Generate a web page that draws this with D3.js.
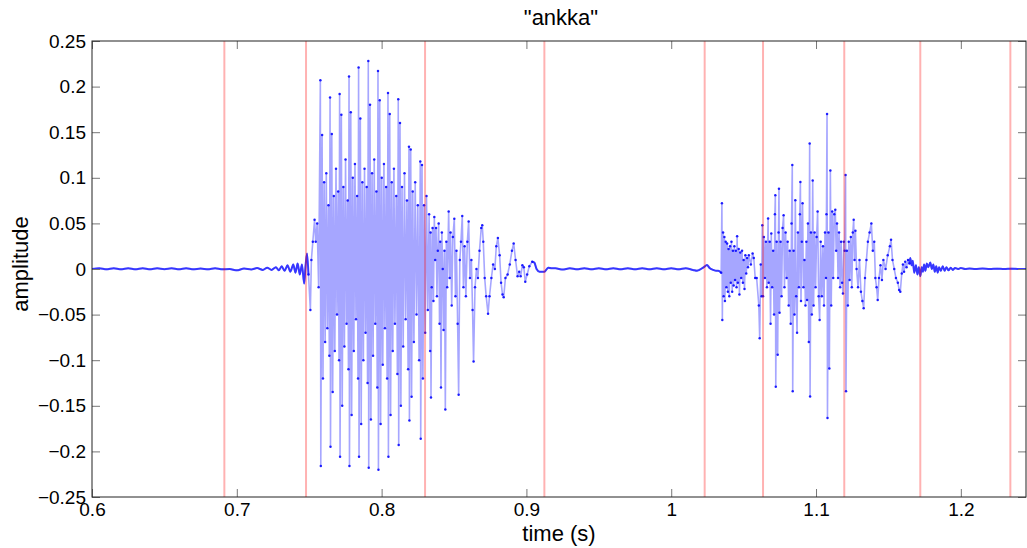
<!DOCTYPE html>
<html>
<head>
<meta charset="utf-8">
<script src="https://cdn.jsdelivr.net/npm/d3@7"></script>
<style>
  body { margin: 0; background: #fff; }
  text { font-family: "Liberation Sans", Arial, Helvetica, sans-serif; }
</style>
</head>
<body>
<svg id="chart" width="1027" height="548"></svg>
<script>
// tick values and labels
var xTicks = [0.6, 0.7, 0.8, 0.9, 1.0, 1.1, 1.2];
var xTickLabels = ["0.6", "0.7", "0.8", "0.9", "1", "1.1", "1.2"];
var yTicks = [0.25, 0.2, 0.15, 0.1, 0.05, 0, -0.05, -0.1, -0.15, -0.2, -0.25];
var yTickLabels = ["0.25", "0.2", "0.15", "0.1", "0.05", "0", "\u22120.05", "\u22120.1", "\u22120.15", "\u22120.2", "\u22120.25"];

// segment boundaries (s)
var boundaries = [0.6914, 0.7478, 0.8300, 0.9124, 1.0231, 1.0634, 1.1195, 1.1720, 1.2342];

// waveform, [time (s), amplitude]
var lead = [
  [0.600, 0.000], [0.605, 0.0008], [0.610, -0.0004], [0.615, 0.0008], [0.620, -0.0004], [0.625, 0.0008],
  [0.630, -0.0004], [0.635, 0.0008], [0.640, -0.0004], [0.645, 0.0008], [0.650, -0.0002], [0.655, 0.0008],
  [0.660, -0.0004], [0.665, 0.0008], [0.670, -0.0004], [0.675, 0.0006], [0.680, -0.0004], [0.685, 0.0008],
  [0.690, -0.0004], [0.695, 0.000], [0.700, -0.0015], [0.705, 0.0005], [0.710, -0.0005], [0.714, 0.001],
  [0.718, -0.001], [0.721, 0.0015], [0.724, -0.001], [0.727, 0.002], [0.729, -0.0015], [0.731, 0.003],
  [0.733, -0.002], [0.735, 0.004], [0.737, -0.003], [0.739, 0.005], [0.7405, -0.004], [0.742, 0.006],
  [0.7435, -0.006], [0.745, 0.005], [0.7465, -0.016], [0.7475, 0.004], [0.7485, 0.017]
];

var vowel1 = [
  [0.7495, -0.006], [0.7508, -0.045], [0.7515, 0.010], [0.7525, 0.030], [0.7537, 0.054], [0.7545, 0.030],
  [0.7555, 0.050], [0.7565, -0.020],
  [0.7577, 0.207], [0.7580, -0.216], [0.7589, 0.147], [0.7595, -0.120], [0.7603, 0.095], [0.7610, -0.080],
  [0.7618, 0.105], [0.7625, -0.065], [0.7633, 0.070], [0.7639, -0.095],
  [0.7644, 0.188], [0.7647, -0.195], [0.7656, 0.148], [0.7662, -0.135], [0.7670, 0.080], [0.7677, -0.090],
  [0.7685, 0.110], [0.7692, -0.050], [0.7700, 0.085], [0.7706, -0.100],
  [0.7710, 0.192], [0.7713, -0.206], [0.7722, 0.169], [0.7728, -0.150], [0.7736, 0.090], [0.7743, -0.085],
  [0.7751, 0.120], [0.7758, -0.060], [0.7766, 0.075], [0.7771, -0.110],
  [0.7775, 0.211], [0.7778, -0.216], [0.7787, 0.172], [0.7793, -0.160], [0.7801, 0.100], [0.7808, -0.090],
  [0.7816, 0.115], [0.7823, -0.055], [0.7831, 0.080], [0.7837, -0.120],
  [0.7841, 0.221], [0.7844, -0.206], [0.7853, 0.165], [0.7859, -0.170], [0.7867, 0.095], [0.7874, -0.100],
  [0.7882, 0.110], [0.7889, -0.070], [0.7897, 0.090], [0.7903, -0.125],
  [0.7908, 0.228], [0.7911, -0.218], [0.7920, 0.180], [0.7926, -0.165], [0.7934, 0.105], [0.7941, -0.095],
  [0.7949, 0.120], [0.7956, -0.060], [0.7964, 0.085], [0.7970, -0.130],
  [0.7975, 0.217], [0.7978, -0.220], [0.7987, 0.185], [0.7993, -0.170], [0.8001, 0.100], [0.8008, -0.105],
  [0.8016, 0.115], [0.8023, -0.065], [0.8031, 0.090], [0.8038, -0.120],
  [0.8044, 0.193], [0.8047, -0.206], [0.8056, 0.170], [0.8062, -0.160], [0.8070, 0.095], [0.8077, -0.090],
  [0.8085, 0.110], [0.8092, -0.060], [0.8101, 0.080], [0.8109, -0.115],
  [0.8115, 0.186], [0.8118, -0.193], [0.8127, 0.160], [0.8133, -0.150], [0.8141, 0.090], [0.8149, -0.085],
  [0.8158, 0.105], [0.8166, -0.055], [0.8175, 0.075], [0.8183, -0.110],
  [0.8189, 0.134], [0.8192, -0.166], [0.8201, 0.131], [0.8207, -0.140], [0.8215, 0.085], [0.8223, -0.080],
  [0.8232, 0.095], [0.8241, -0.050], [0.8250, 0.070], [0.8259, -0.100],
  [0.8267, 0.118], [0.8270, -0.186], [0.8279, 0.114], [0.8285, -0.120], [0.8293, 0.070], [0.8301, -0.070],
  [0.8310, 0.080], [0.8319, -0.045], [0.8328, 0.060], [0.8335, -0.090],
  [0.8338, 0.040], [0.8341, -0.141], [0.8346, -0.020], [0.8352, 0.045], [0.8358, -0.035], [0.8364, 0.057],
  [0.8370, 0.010], [0.8376, 0.045], [0.8382, -0.030], [0.8388, 0.020], [0.8394, 0.050], [0.8400, -0.060],
  [0.8405, 0.030], [0.8410, -0.130], [0.8416, 0.040], [0.8422, 0.000], [0.8428, -0.067], [0.8434, 0.020],
  [0.8440, -0.154], [0.8447, 0.030], [0.8453, -0.020], [0.8463, 0.063], [0.8470, -0.010], [0.8476, 0.040],
  [0.8484, -0.040], [0.8492, 0.035], [0.8502, 0.055], [0.8510, -0.030], [0.8517, 0.020], [0.8525, -0.060],
  [0.8532, -0.138], [0.8540, 0.010], [0.8548, 0.030], [0.8557, 0.058], [0.8565, -0.020], [0.8573, 0.025],
  [0.8582, -0.030], [0.8592, 0.030], [0.8601, 0.052], [0.8610, -0.010], [0.8620, 0.010], [0.8628, -0.045],
  [0.8635, -0.1015], [0.8645, -0.020], [0.8655, 0.000], [0.8665, -0.010], [0.8676, 0.020], [0.8688, 0.045],
  [0.8695, 0.048], [0.8702, 0.030], [0.8712, -0.010], [0.8722, -0.030], [0.8735, -0.049], [0.8745, -0.030],
  [0.8758, -0.010], [0.8770, 0.005], [0.8782, 0.000], [0.8792, 0.025], [0.8803, 0.034], [0.8815, 0.015],
  [0.8825, -0.015], [0.8835, -0.028], [0.8843, -0.031], [0.8855, -0.010], [0.8870, -0.006], [0.8885, 0.005],
  [0.8900, 0.020], [0.8912, 0.028], [0.8925, 0.010], [0.8939, -0.008], [0.8950, -0.003], [0.8960, -0.008],
  [0.8972, 0.004], [0.8982, 0.002], [0.8992, -0.014], [0.9005, -0.006], [0.9020, 0.003], [0.9040, 0.008]
];

var gap = [
  [0.9055, 0.007], [0.9070, 0.000], [0.9090, -0.003], [0.9124, -0.003], [0.9150, 0.0015], [0.9175, 0.0008],
  [0.920, 0.0008], [0.925, -0.0006], [0.930, 0.0008], [0.935, -0.0004], [0.940, 0.0008], [0.945, -0.0004],
  [0.950, 0.0008], [0.955, -0.0004], [0.960, 0.0008], [0.965, -0.0004], [0.970, 0.0008], [0.975, -0.0004],
  [0.980, 0.0008], [0.985, -0.0004], [0.990, 0.0008], [0.995, -0.0004], [1.000, 0.0008], [1.005, -0.0004],
  [1.010, 0.0008], [1.015, -0.001], [1.0178, -0.002], [1.0225, 0.002], [1.0247, 0.0045], [1.0265, 0.001],
  [1.029, -0.001], [1.031, -0.002], [1.0325, -0.002]
];

var vowel2 = [
  [1.0345, -0.004], [1.0350, 0.072], [1.0353, -0.056], [1.0358, 0.040], [1.0362, -0.030], [1.0367, 0.035],
  [1.0371, -0.035], [1.0376, 0.030], [1.0381, -0.020], [1.0386, 0.028], [1.0391, -0.025], [1.0396, 0.022],
  [1.0401, -0.030], [1.0406, 0.025], [1.0411, -0.015], [1.0416, 0.030], [1.0421, -0.025], [1.0426, 0.020],
  [1.0431, -0.018], [1.0436, 0.025], [1.0441, -0.012], [1.0446, 0.020], [1.0451, -0.020], [1.0455, 0.036],
  [1.0460, -0.015], [1.0466, 0.022], [1.0471, -0.028], [1.0477, 0.018], [1.0483, -0.010], [1.0489, 0.020],
  [1.0495, -0.015], [1.0500, 0.010], [1.0506, -0.022], [1.0512, 0.015], [1.0518, -0.005], [1.0524, 0.012],
  [1.0530, 0.002], [1.0536, 0.015], [1.0550, 0.005], [1.0562, 0.017], [1.0570, 0.012], [1.0580, -0.010],
  [1.0590, -0.010], [1.0605, -0.040], [1.0611, -0.076], [1.0618, 0.005], [1.0624, -0.030], [1.0629, 0.048],
  [1.0634, -0.030], [1.0640, 0.035], [1.0647, -0.010], [1.0654, 0.030], [1.0661, -0.020], [1.0669, 0.0555],
  [1.0673, -0.015], [1.0680, 0.030], [1.0686, -0.060], [1.0691, 0.039], [1.0697, -0.020], [1.0704, 0.020],
  [1.0710, -0.050], [1.0716, 0.060], [1.0719, 0.081], [1.0722, -0.129], [1.0728, 0.030], [1.0735, -0.094],
  [1.0741, 0.040], [1.0744, 0.088], [1.0748, -0.048], [1.0755, 0.030], [1.0762, -0.030], [1.0769, 0.045],
  [1.0776, 0.059], [1.0782, -0.020], [1.0790, 0.040], [1.0797, -0.010], [1.0804, 0.030], [1.0811, -0.040],
  [1.0818, 0.020], [1.0825, -0.060], [1.0831, 0.050], [1.0836, 0.114], [1.0839, -0.134], [1.0845, 0.020],
  [1.0851, -0.050], [1.0857, 0.0755], [1.0863, -0.030], [1.0869, -0.070], [1.0875, 0.040], [1.0882, -0.020],
  [1.0888, 0.060], [1.0892, 0.0955], [1.0896, -0.035], [1.0902, 0.030], [1.0907, 0.072], [1.0913, -0.020],
  [1.0920, 0.010], [1.0927, -0.040], [1.0933, 0.030], [1.0938, -0.034], [1.0944, 0.050], [1.0950, -0.080],
  [1.0956, 0.1376], [1.0959, -0.1398], [1.0965, 0.040], [1.0971, -0.050], [1.0977, 0.097], [1.0983, -0.040],
  [1.0990, 0.040], [1.0997, -0.020], [1.1004, 0.035], [1.1011, 0.063], [1.1018, -0.030], [1.1025, -0.056],
  [1.1032, 0.030], [1.1040, -0.030], [1.1048, 0.025], [1.1055, -0.040], [1.1062, 0.040], [1.1069, -0.010],
  [1.1072, 0.060], [1.1076, 0.170], [1.1079, -0.1635], [1.1086, 0.040], [1.1092, -0.109], [1.1099, 0.108],
  [1.1105, -0.040], [1.1112, 0.063], [1.1119, -0.010], [1.1126, 0.060], [1.1133, 0.065], [1.1139, 0.020],
  [1.1145, 0.050], [1.1152, -0.010], [1.1159, 0.040], [1.1166, -0.020], [1.1173, 0.030], [1.1180, -0.015],
  [1.1186, -0.027], [1.1192, 0.030], [1.1198, 0.020], [1.1204, 0.103], [1.1207, -0.134], [1.1213, 0.020],
  [1.1220, -0.040], [1.1226, 0.030], [1.1232, -0.012], [1.1240, 0.035], [1.1247, -0.020], [1.1254, 0.040],
  [1.1260, 0.054], [1.1266, 0.010], [1.1272, 0.042], [1.1280, 0.000], [1.1290, -0.020], [1.1300, 0.010],
  [1.1310, -0.025], [1.1320, -0.035], [1.1329, -0.043], [1.1338, -0.010], [1.1348, 0.010], [1.1358, 0.030],
  [1.1370, 0.040], [1.1382, 0.050], [1.1392, 0.020], [1.1402, 0.030], [1.1410, -0.010], [1.1418, -0.020],
  [1.1426, -0.034], [1.1435, -0.010], [1.1445, 0.004], [1.1455, -0.012], [1.1465, 0.010], [1.1480, 0.000],
  [1.1495, 0.015], [1.1510, 0.025], [1.1518, 0.032], [1.1528, 0.010], [1.1540, 0.000], [1.1552, -0.010],
  [1.1565, -0.015], [1.1574, -0.023], [1.1582, -0.025], [1.1592, -0.005], [1.1600, 0.005], [1.1608, -0.003],
  [1.1616, 0.008], [1.1625, 0.002], [1.1635, 0.010], [1.1645, 0.006]
];

var tail = [
  [1.1651, 0.012], [1.1660, 0.004], [1.1668, 0.009], [1.1678, -0.004], [1.1690, 0.004], [1.1700, -0.006],
  [1.1710, 0.002], [1.1720, -0.008], [1.1730, 0.002], [1.1738, -0.003], [1.1746, 0.005], [1.1755, -0.002],
  [1.1765, 0.006], [1.1775, 0.002], [1.1789, 0.007], [1.1800, 0.000], [1.1810, 0.005], [1.1820, -0.003],
  [1.1830, 0.003], [1.1840, -0.004], [1.1850, 0.002], [1.1862, -0.002], [1.1875, 0.003], [1.1888, -0.002],
  [1.1900, 0.002], [1.1915, -0.0015], [1.1930, 0.0015], [1.1945, -0.001], [1.1960, 0.0012], [1.1980, 0.000],
  [1.2000, 0.001], [1.2030, 0.000], [1.2060, 0.0006], [1.2100, 0.000], [1.2150, 0.0006], [1.2200, 0.000],
  [1.2250, 0.0004], [1.2300, 0.000], [1.2350, 0.0004], [1.2400, 0.000], [1.2450, 0.000]
];

function drawChart() {
  var pLeft = 92, pRight = 1026, pTop = 41, pBottom = 497;
  var svg = d3.select("#chart");

  var x = d3.scaleLinear().domain([0.6, 1.245]).range([pLeft, pRight]);
  var y = d3.scaleLinear().domain([-0.25, 0.25]).range([pBottom, pTop]);

  svg.append("clipPath").attr("id", "plotclip")
    .append("rect").attr("x", pLeft).attr("y", pTop).attr("width", pRight - pLeft).attr("height", pBottom - pTop);

  var line = d3.line().x(function(d) { return x(d[0]); }).y(function(d) { return y(d[1]); });
  var smooth = d3.line().curve(d3.curveMonotoneX)
    .x(function(d) { return x(d[0]); }).y(function(d) { return y(d[1]); });
  var plot = svg.append("g").attr("clip-path", "url(#plotclip)");

  // whole signal, light strokes
  var all = lead.concat(vowel1, gap, vowel2, tail);
  plot.append("path").datum(all)
    .attr("d", line)
    .attr("fill", "none")
    .attr("stroke", "#0000ff")
    .attr("stroke-opacity", 0.35)
    .attr("stroke-width", 1.6)
    .attr("stroke-linejoin", "round");

  // quiet parts look like a solid line
  var quiet = [
    lead.concat([vowel1[0]]),
    [vowel1[vowel1.length - 1]].concat(gap, [vowel2[0]]),
    [vowel2[vowel2.length - 1]].concat(tail)
  ];
  quiet.forEach(function(seg) {
    plot.append("path").datum(seg)
      .attr("d", smooth)
      .attr("fill", "none")
      .attr("stroke", "#2222ff")
      .attr("stroke-opacity", 0.85)
      .attr("stroke-width", 2);
  });

  // sample markers in the voiced parts
  plot.selectAll("circle.dot")
    .data(vowel1.concat(vowel2))
    .enter()
    .append("circle")
    .attr("class", "dot")
    .attr("cx", function(d) { return x(d[0]); })
    .attr("cy", function(d) { return y(d[1]); })
    .attr("r", 1.25)
    .attr("fill", "#0000ff")
    .attr("fill-opacity", 0.85);

  // boundaries
  plot.selectAll("line.bound")
    .data(boundaries)
    .enter()
    .append("line")
    .attr("class", "bound")
    .attr("x1", function(d) { return x(d); })
    .attr("x2", function(d) { return x(d); })
    .attr("y1", pTop)
    .attr("y2", pBottom)
    .attr("stroke", "#ff0000")
    .attr("stroke-opacity", 0.3)
    .attr("stroke-width", 2);

  // axes
  var gx = svg.append("g").attr("transform", "translate(0," + pBottom + ")")
    .call(d3.axisBottom(x).tickValues(xTicks).tickFormat(function(d, i) { return xTickLabels[i]; })
      .tickSizeInner(-8).tickSizeOuter(0).tickPadding(6));
  var gy = svg.append("g").attr("transform", "translate(" + pLeft + ",0)")
    .call(d3.axisLeft(y).tickValues(yTicks).tickFormat(function(d, i) { return yTickLabels[i]; })
      .tickSizeInner(-8).tickSizeOuter(0).tickPadding(6));
  var gt = svg.append("g").attr("transform", "translate(0," + pTop + ")")
    .call(d3.axisTop(x).tickValues(xTicks).tickFormat("").tickSizeInner(-8).tickSizeOuter(0));
  var gr = svg.append("g").attr("transform", "translate(" + pRight + ",0)")
    .call(d3.axisRight(y).tickValues(yTicks).tickFormat("").tickSizeInner(-8).tickSizeOuter(0));

  [gx, gy, gt, gr].forEach(function(g) {
    g.select(".domain").remove();
    g.selectAll(".tick line").attr("stroke", "#777");
    g.selectAll("text")
      .attr("font-family", "'Liberation Sans', Arial, sans-serif")
      .attr("font-size", 19)
      .attr("fill", "#000");
  });

  svg.append("rect")
    .attr("x", pLeft).attr("y", pTop)
    .attr("width", pRight - pLeft).attr("height", pBottom - pTop)
    .attr("fill", "none").attr("stroke", "#222").attr("stroke-width", 1);

  // labels
  svg.append("text")
    .attr("x", 561).attr("y", 25)
    .attr("text-anchor", "middle")
    .attr("font-size", 22)
    .text("\"ankka\"");

  svg.append("text")
    .attr("x", 559).attr("y", 541)
    .attr("text-anchor", "middle")
    .attr("font-size", 22)
    .text("time (s)");

  svg.append("text")
    .attr("transform", "translate(28,264) rotate(-90)")
    .attr("text-anchor", "middle")
    .attr("font-size", 22)
    .text("amplitude");
}

drawChart();
</script>
</body>
</html>
